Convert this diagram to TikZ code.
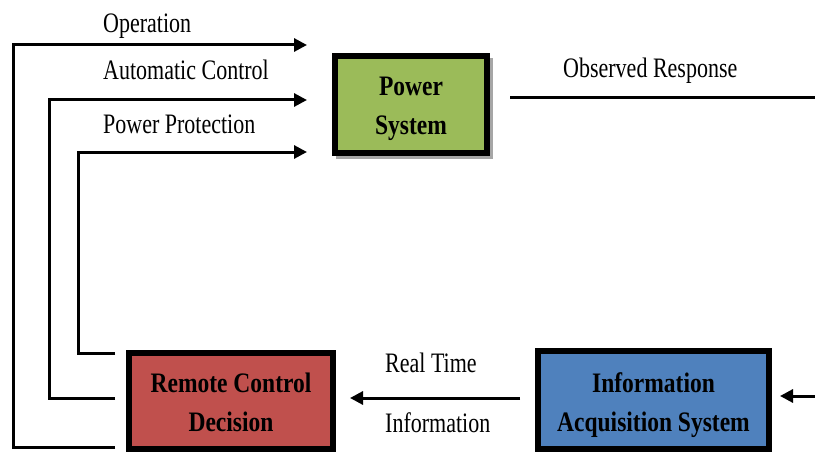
\documentclass[tikz,border=0pt]{standalone}
\usepackage{fontspec}
\usepackage{graphicx}
\setmainfont{Liberation Serif}
\usetikzlibrary{arrows.meta,calc}
\definecolor{psgreen}{HTML}{9BBB59}
\definecolor{rcred}{HTML}{C0504D}
\definecolor{iablue}{HTML}{4F81BD}
% the lettering is set slightly taller than its natural shape
\newcommand{\tallline}[1]{\scalebox{1}[1.2]{#1}}
\newcommand{\taller}[1]{\scalebox{1}[1.28]{#1}}
\tikzset{
  blockbox/.style={draw=black, line width=6pt, minimum width=#1, inner sep=0pt},
  blocktext/.style={inner sep=0pt, align=center, font=\fontsize{23.5}{39}\selectfont\bfseries},
  flow/.style={line width=3pt, line join=miter},
  flowarrow/.style={flow, -{Triangle[length=13pt,width=13pt]}},
  lbl/.style={font=\fontsize{22}{24}\selectfont, inner sep=0pt, anchor=base west},
  shade/.style={fill=black!35, draw=none}
}
\begin{document}
\begin{tikzpicture}[x=1pt,y=-1pt]
\useasboundingbox (0,0) rectangle (815,452);
% soft shadow behind the power system block
\fill[shade] (336,58) rectangle (493,159);
% blocks
\node[blockbox=152pt, minimum height=97pt, fill=psgreen] (ps) at (411,104.5) {};
\node[blockbox=204pt, minimum height=96pt, fill=rcred] (rcd) at (231,401) {};
\node[blockbox=231pt, minimum height=98pt, fill=iablue] (ias) at (653.5,400) {};
% block captions
\node[blocktext] (psText) at ($(ps.center)+(0,4)$) {\tallline{Power}\\\tallline{System}};
\node[blocktext] (rcdText) at ($(rcd.center)+(0,1)$) {\tallline{Remote Control}\\\tallline{Decision}};
\node[blocktext] (iasText) at ($(ias.center)+(0,5)$) {\tallline{Information}\\\tallline{Acquisition System}};
% end points of the control paths
\coordinate (opIn) at (307,45);
\coordinate (acIn) at (307,100);
\coordinate (ppIn) at (307,152);
\coordinate (opOut) at (115,447);
\coordinate (acOut) at (115,398);
\coordinate (ppOut) at (115,353);
\coordinate (obsStart) at (510,98);
\coordinate (obsEnd) at (815,98);
\coordinate (feedIn) at (815,396);
\coordinate (rtStart) at (520,398);
% control paths from the decision block back to the power system
\draw[flowarrow] (opOut) -| (13,45) -- (opIn);
\draw[flowarrow] (acOut) -| (49,100) -- (acIn);
\draw[flowarrow] (ppOut) -| (78,152) -- (ppIn);
% observed response and measured data
\draw[flow] (obsStart) -- (obsEnd);
\draw[flowarrow] (feedIn) -- ($(feedIn -| ias.east)+(8,0)$);
\draw[flowarrow] (rtStart) -- ($(rtStart -| rcd.east)+(14,0)$);
% labels
\node[lbl] (lop) at (103,33) {\taller{Operation}};
\node[lbl] (lac) at (103,80) {\taller{Automatic Control}};
\node[lbl] (lpp) at (103,133) {\taller{Power Protection}};
\node[lbl] (lobs) at (563,78) {\taller{Observed Response}};
\node[lbl] (lrt) at (385,372) {\taller{Real Time}};
\node[lbl] (lri) at (385,432) {\taller{Information}};
\end{tikzpicture}
\end{document}
